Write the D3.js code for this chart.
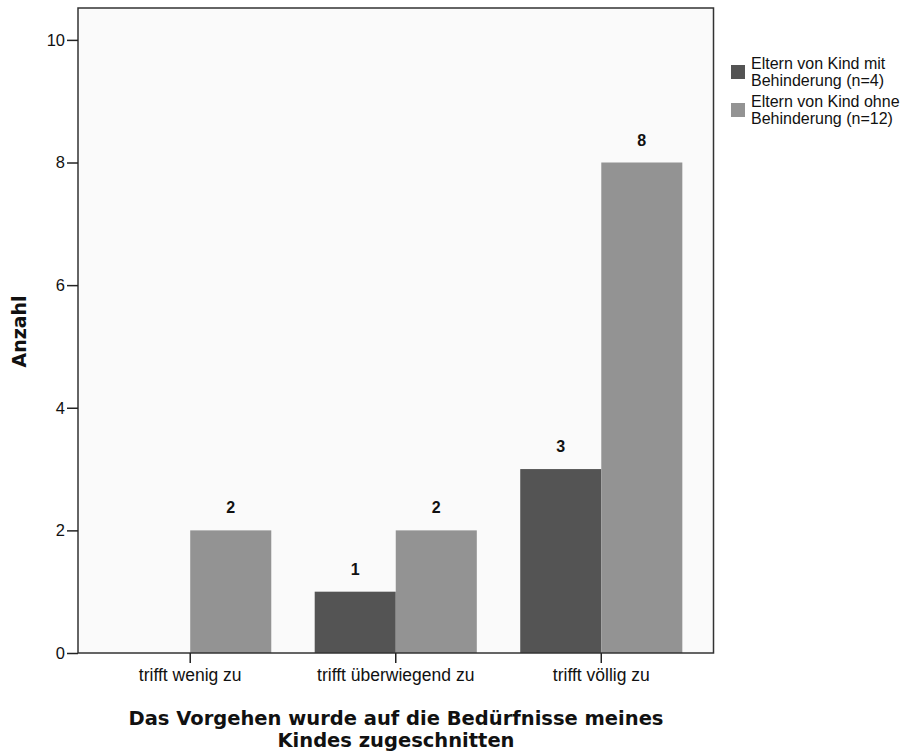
<!DOCTYPE html>
<html><head><meta charset="utf-8">
<script src="https://cdn.jsdelivr.net/npm/d3@7"></script>
<style>body{margin:0;background:#fff}</style>
</head><body><svg id="c" width="907" height="755"></svg>
<script>
const categories = ["trifft wenig zu", "trifft überwiegend zu", "trifft völlig zu"];
const seriesNames = ["Eltern von Kind mit Behinderung (n=4)", "Eltern von Kind ohne Behinderung (n=12)"];
const legendLines = [["Eltern von Kind mit", "Behinderung (n=4)"], ["Eltern von Kind ohne", "Behinderung (n=12)"]];
const withDisability = [0, 1, 3];
const withoutDisability = [2, 2, 8];
const yTicks = [0, 2, 4, 6, 8, 10];
const colors = ["#545454", "#939393"];
const yTitle = "Anzahl";
const xTitle = ["Das Vorgehen wurde auf die Bedürfnisse meines", "Kindes zugeschnitten"];

const SANS = "Liberation Sans, Arial, sans-serif";
const TITLE = "DejaVu Sans, Verdana, sans-serif";
const svg = d3.select("#c");
const L = 78, R = 713.5, T = 8, B = 653;
const x = d3.scaleBand().domain(categories).range([L, R]).paddingInner(0).paddingOuter(0.046);
const inner = d3.scaleBand().domain([0, 1]).range([0, x.bandwidth()]).paddingInner(0).paddingOuter(0.268);
const y = d3.scaleLinear().domain([0, 10.52]).range([B, T]);

svg.append("rect").attr("x", L).attr("y", T).attr("width", R - L).attr("height", B - T).attr("fill", "#fafafa");

const data = [];
categories.forEach((c, i) => {
  [withDisability[i], withoutDisability[i]].forEach((v, s) => data.push({c, s, v}));
});
const bars = data.filter(d => d.v > 0);
svg.append("g").selectAll("rect").data(bars).join("rect")
  .attr("x", d => x(d.c) + inner(d.s))
  .attr("width", inner.bandwidth())
  .attr("y", d => y(d.v))
  .attr("height", d => y(0) - y(d.v))
  .attr("fill", d => colors[d.s]);
svg.append("g").selectAll("text").data(bars).join("text")
  .attr("x", d => x(d.c) + inner(d.s) + inner.bandwidth() / 2)
  .attr("y", d => y(d.v) - 17)
  .attr("text-anchor", "middle")
  .style("font-family", SANS).style("font-weight", "bold").style("font-size", "16px").attr("fill", "#111")
  .text(d => d.v);

// frame
svg.append("rect").attr("x", L).attr("y", T).attr("width", R - L).attr("height", B - T)
  .attr("fill", "none").attr("stroke", "#333").attr("stroke-width", 1.5);

const yAxis = svg.append("g").attr("transform", `translate(${L},0)`)
  .call(d3.axisLeft(y).tickValues(yTicks).tickSize(11).tickPadding(2));
yAxis.select(".domain").remove();
yAxis.selectAll("line").attr("stroke", "#222").attr("stroke-width", 1.5);
yAxis.selectAll("text").style("font-size", "16.5px").attr("fill", "#111").style("font-family", SANS);

const xAxis = svg.append("g").attr("transform", `translate(0,${B})`)
  .call(d3.axisBottom(x).tickSize(10).tickPadding(6));
xAxis.select(".domain").remove();
xAxis.selectAll("line").attr("stroke", "#222").attr("stroke-width", 1.5);
xAxis.selectAll("text").style("font-size", "17.5px").attr("fill", "#111").style("font-family", SANS);

svg.append("text").attr("transform", `translate(26,${(T + B) / 2 + 1}) rotate(-90)`)
  .attr("text-anchor", "middle").attr("fill", "#111")
  .style("font-family", TITLE).style("font-weight", "bold").style("font-size", "19px")
  .text(yTitle);
svg.append("text").attr("x", 396).attr("y", 725)
  .attr("text-anchor", "middle").attr("fill", "#111")
  .style("font-family", TITLE).style("font-weight", "bold").style("font-size", "19.5px")
  .selectAll("tspan").data(xTitle).join("tspan")
  .attr("x", 396).attr("dy", (d, i) => i ? 22 : 0).text(d => d);

const leg = svg.append("g").selectAll("g").data(legendLines).join("g")
  .attr("transform", (d, i) => `translate(731,${65 + i * 38})`);
leg.append("rect").attr("width", 14).attr("height", 14).attr("fill", (d, i) => colors[i]);
leg.append("text").attr("x", 20).attr("y", 4).attr("fill", "#111")
  .style("font-family", SANS).style("font-size", "16px")
  .selectAll("tspan").data(d => d).join("tspan")
  .attr("x", 20).attr("dy", (d, i) => i ? 16.5 : 0).text(d => d);
</script></body></html>
